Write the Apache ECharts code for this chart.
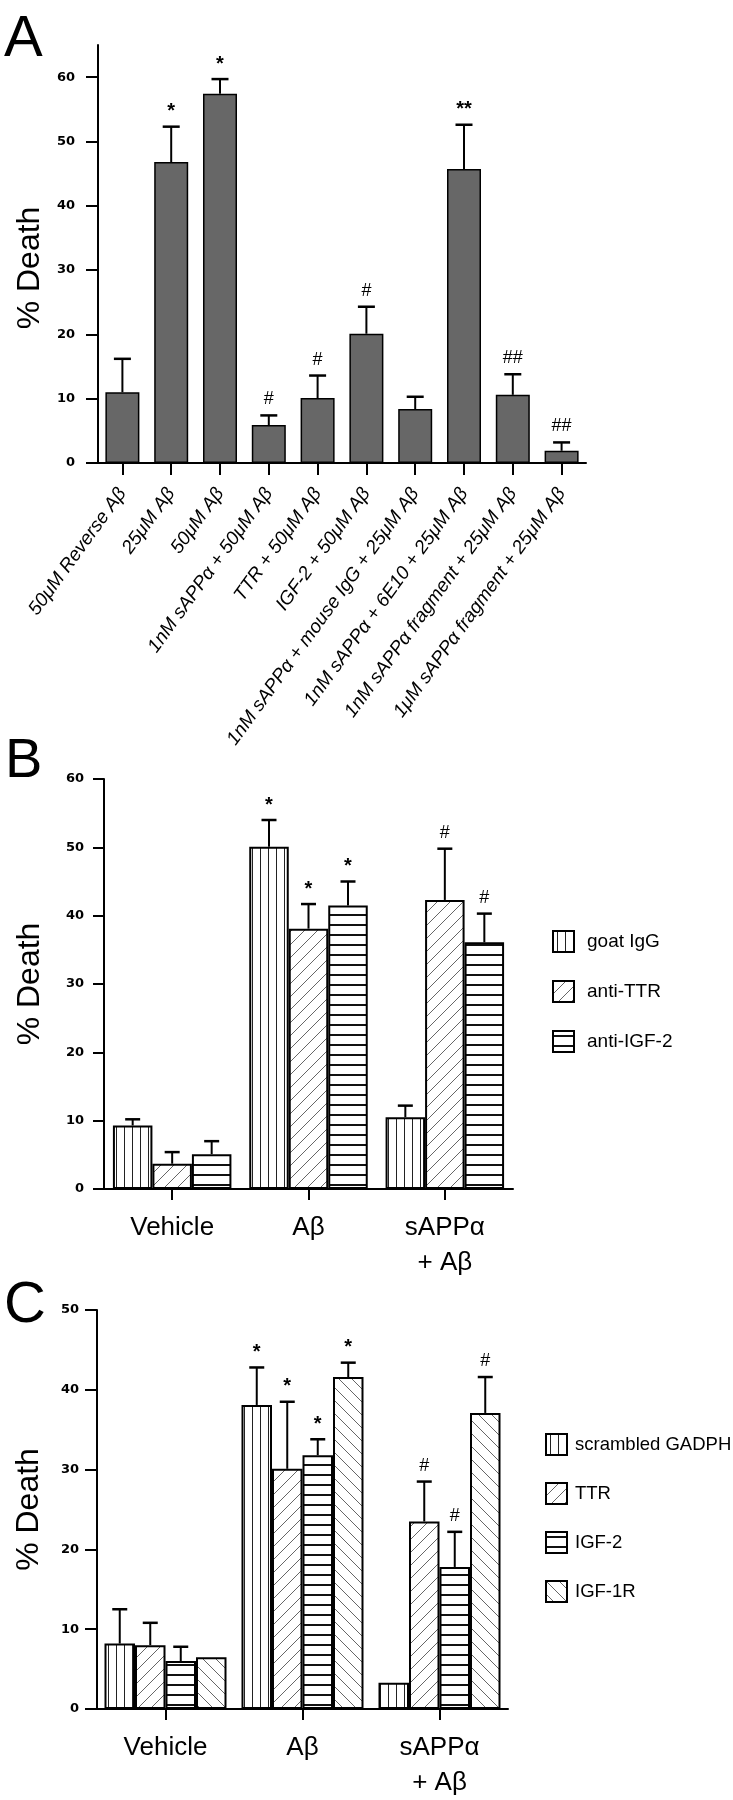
<!DOCTYPE html>
<html><head><meta charset="utf-8">
<script src="https://cdn.jsdelivr.net/npm/echarts@6/dist/echarts.min.js"></script>
<style>html,body{margin:0;padding:0;background:#fff}#c{width:733px;height:1800px}</style>
</head><body><div id="c"></div>
<script>
// ---------- Panel A ----------
const catsA = ['50μM Reverse Aβ','25μM Aβ','50μM Aβ','1nM sAPPα + 50μM Aβ','TTR + 50μM Aβ','IGF-2 + 50μM Aβ','1nM sAPPα + mouse IgG + 25μM Aβ','1nM sAPPα + 6E10 + 25μM Aβ','1nM sAPPα fragment + 25μM Aβ','1μM sAPPα fragment + 25μM Aβ'];
const valsA = [11.0, 46.8, 57.4, 5.9, 10.1, 20.1, 8.4, 45.7, 10.6, 1.9];
const errA  = [5.2, 5.5, 2.3, 1.5, 3.5, 4.2, 1.9, 6.9, 3.2, 1.3];
const sigA  = ['', '*', '*', '#', '#', '#', '', '**', '##', '##'];
const ticksA = [0, 10, 20, 30, 40, 50, 60];

// ---------- Panel B ----------
const catsB  = ['Vehicle', 'Aβ', 'sAPPα\n+ Aβ'];
const namesB = ['goat IgG', 'anti-TTR', 'anti-IGF-2'];
const valsB  = [[9.3, 50.1, 10.5], [3.7, 38.1, 42.3], [5.1, 41.5, 36.1]];
const errB   = [[0.9, 3.9, 1.7], [1.7, 3.6, 7.5], [1.9, 3.5, 4.2]];
const sigB   = [['', '*', ''], ['', '*', '#'], ['', '*', '#']];

// ---------- Panel C ----------
const catsC  = ['Vehicle', 'Aβ', 'sAPPα\n+ Aβ'];
const namesC = ['scrambled GADPH', 'TTR', 'IGF-2', 'IGF-1R'];
const valsC  = [[8.2, 38.1, 3.3], [8.0, 30.1, 23.5], [6.0, 31.8, 17.8], [6.5, 41.6, 37.1]];
const errC   = [[4.3, 4.7, 0], [2.8, 8.4, 5.0], [1.8, 2.0, 4.4], [0, 1.8, 4.5]];
const sigC   = [['', '*', ''], ['', '*', '#'], ['', '*', '#'], ['', '*', '#']];

const FONT = '"Liberation Sans", Arial, sans-serif';
const TICKFONT = '"DejaVu Sans", sans-serif';

function makePattern(kind) {
  const c = document.createElement('canvas');
  const s = kind === 'v' ? 8 : kind === 'h' ? 10 : 13;
  c.width = s; c.height = s;
  const g = c.getContext('2d');
  g.fillStyle = '#fff'; g.fillRect(0, 0, s, s);
  if (kind === 'v') {
    g.fillStyle = '#222'; g.fillRect(4, 0, 1, s);
  } else if (kind === 'h') {
    g.fillStyle = '#111'; g.fillRect(0, 4, s, 2);
  } else {
    g.strokeStyle = '#666'; g.lineWidth = 1;
    g.beginPath();
    if (kind === 'f') {
      g.moveTo(-1, s + 1); g.lineTo(s + 1, -1);
      g.moveTo(-1, 1); g.lineTo(1, -1);
      g.moveTo(s - 1, s + 1); g.lineTo(s + 1, s - 1);
    } else {
      g.moveTo(-1, -1); g.lineTo(s + 1, s + 1);
      g.moveTo(s - 1, -1); g.lineTo(s + 1, 1);
      g.moveTo(-1, s - 1); g.lineTo(1, s + 1);
    }
    g.stroke();
  }
  return { image: c, repeat: 'repeat' };
}
const patB = [makePattern('v'), makePattern('f'), makePattern('h')];
const patC = [makePattern('v'), makePattern('f'), makePattern('h'), makePattern('b')];

function errSeries(grid, vals, errs, sigs, offset, capW) {
  return {
    type: 'custom', xAxisIndex: grid, yAxisIndex: grid, z: 5, silent: true,
    data: vals.map((v, i) => [i, v, errs[i]]),
    encode: { x: 0, y: 1 },
    renderItem: function (params, api) {
      const i = api.value(0), v = api.value(1), e = api.value(2);
      const p0 = api.coord([i, v]);
      const p1 = api.coord([i, v + e]);
      const x = p0[0] + offset;
      const ch = [];
      if (e > 0) {
        ch.push({ type: 'line', shape: { x1: x, y1: p0[1], x2: x, y2: p1[1] }, style: { stroke: '#000', lineWidth: 2 } });
        ch.push({ type: 'line', shape: { x1: x - capW / 2, y1: p1[1], x2: x + capW / 2, y2: p1[1] }, style: { stroke: '#000', lineWidth: 2.5 } });
      }
      const s = sigs[params.dataIndex];
      if (s) {
        const star = s.indexOf('*') >= 0;
        ch.push({ type: 'text', style: { text: s, x: x, y: p1[1] - (star ? 15 : 16), align: 'center', verticalAlign: 'middle',
          fontSize: star ? 20 : 18, fontWeight: star ? 'bold' : 'normal', fontFamily: FONT, fill: '#000' } });
      }
      return { type: 'group', children: ch };
    }
  };
}

const axisLineStyle = { show: true, lineStyle: { color: '#000', width: 2 } };
const yLabel = { color: '#000', fontSize: 13, fontWeight: 'bold', fontFamily: TICKFONT };
const nameStyle = { fontSize: 32, color: '#000', fontFamily: FONT };
function yTick(len, extra) { return Object.assign({ show: true, length: len, lineStyle: { color: '#000', width: 2 } }, extra || {}); }

const series = [];
series.push({
  type: 'bar', xAxisIndex: 0, yAxisIndex: 0, data: valsA, barWidth: 34,
  itemStyle: { color: '#676767', borderColor: '#000', borderWidth: 1.5 }
});
series.push(errSeries(0, valsA, errA, sigA, 0, 17));

const bwB = 39.5, bwC = 30.5;
namesB.forEach((n, k) => {
  series.push({
    name: n, type: 'bar', xAxisIndex: 1, yAxisIndex: 1, data: valsB[k], barWidth: bwB, barGap: '0%',
    itemStyle: { color: patB[k], borderColor: '#000', borderWidth: 2 }
  });
});
namesB.forEach((n, k) => series.push(errSeries(1, valsB[k], errB[k], sigB[k], (k - (namesB.length - 1) / 2) * bwB, 15)));
namesC.forEach((n, k) => {
  series.push({
    name: n, type: 'bar', xAxisIndex: 2, yAxisIndex: 2, data: valsC[k], barWidth: bwC, barGap: '0%',
    itemStyle: { color: patC[k], borderColor: '#000', borderWidth: 2 }
  });
});
namesC.forEach((n, k) => series.push(errSeries(2, valsC[k], errC[k], sigC[k], (k - (namesC.length - 1) / 2) * bwC, 15)));

const option = {
  backgroundColor: '#fff',
  animation: false,
  graphic: [
    { type: 'text', left: 4, top: 11, style: { text: 'A', fontSize: 58, fontFamily: FONT, fill: '#000' } },
    { type: 'text', left: 5, top: 734, style: { text: 'B', fontSize: 56, fontFamily: FONT, fill: '#000' } },
    { type: 'text', left: 4, top: 1277, style: { text: 'C', fontSize: 58, fontFamily: FONT, fill: '#000' } }
  ],
  legend: [
    { data: namesB, orient: 'vertical', left: 547, top: 925, itemWidth: 21, itemHeight: 21, itemGap: 27,
      icon: 'rect', textStyle: { fontSize: 19, color: '#000', fontFamily: FONT, padding: [0, 0, 0, 8] }, selectedMode: false },
    { data: namesC, orient: 'vertical', left: 540, top: 1428, itemWidth: 21, itemHeight: 21, itemGap: 26,
      icon: 'rect', textStyle: { fontSize: 18.5, color: '#000', fontFamily: FONT, padding: [0, 0, 0, 3] }, selectedMode: false }
  ],
  grid: [
    { left: 98, top: 45, width: 488, height: 418 },
    { left: 104, top: 779, width: 409, height: 410 },
    { left: 97, top: 1310, width: 411, height: 405 }
  ],
  xAxis: [
    { type: 'category', gridIndex: 0, data: catsA, axisLine: axisLineStyle,
      axisTick: { show: true, length: 12, alignWithLabel: true, lineStyle: { color: '#000', width: 2 } },
      axisLabel: { interval: 0, rotate: 54, fontSize: 19, fontStyle: 'italic', color: '#000', fontFamily: FONT, margin: 27 } },
    { type: 'category', gridIndex: 1, data: catsB, axisLine: axisLineStyle,
      axisTick: { show: true, length: 11, alignWithLabel: true, lineStyle: { color: '#000', width: 2 } },
      axisLabel: { interval: 0, fontSize: 26, color: '#000', fontFamily: FONT, margin: 21, lineHeight: 35 } },
    { type: 'category', gridIndex: 2, data: catsC, axisLine: axisLineStyle,
      axisTick: { show: true, length: 11, alignWithLabel: true, lineStyle: { color: '#000', width: 2 } },
      axisLabel: { interval: 0, fontSize: 26, color: '#000', fontFamily: FONT, margin: 21, lineHeight: 35 } }
  ],
  yAxis: [
    { type: 'value', gridIndex: 0, min: 0, max: 65, interval: 10, splitLine: { show: false },
      axisLine: axisLineStyle, axisTick: yTick(12, { customValues: ticksA }),
      axisLabel: Object.assign({}, yLabel, { margin: 23, customValues: ticksA }),
      name: '% Death', nameLocation: 'middle', nameGap: 52, nameTextStyle: Object.assign({}, nameStyle, { padding: [0, 28, 0, 0] }) },
    { type: 'value', gridIndex: 1, min: 0, max: 60, interval: 10, splitLine: { show: false },
      axisLine: axisLineStyle, axisTick: yTick(11), axisLabel: Object.assign({}, yLabel, { margin: 20 }),
      name: '% Death', nameLocation: 'middle', nameGap: 58, nameTextStyle: nameStyle },
    { type: 'value', gridIndex: 2, min: 0, max: 50, interval: 10, splitLine: { show: false },
      axisLine: axisLineStyle, axisTick: yTick(12), axisLabel: Object.assign({}, yLabel, { margin: 18 }),
      name: '% Death', nameLocation: 'middle', nameGap: 52, nameTextStyle: nameStyle }
  ],
  series: series
};
const chart = echarts.init(document.getElementById('c'), null, { renderer: 'canvas' });
chart.setOption(option);
</script>
</body></html>
